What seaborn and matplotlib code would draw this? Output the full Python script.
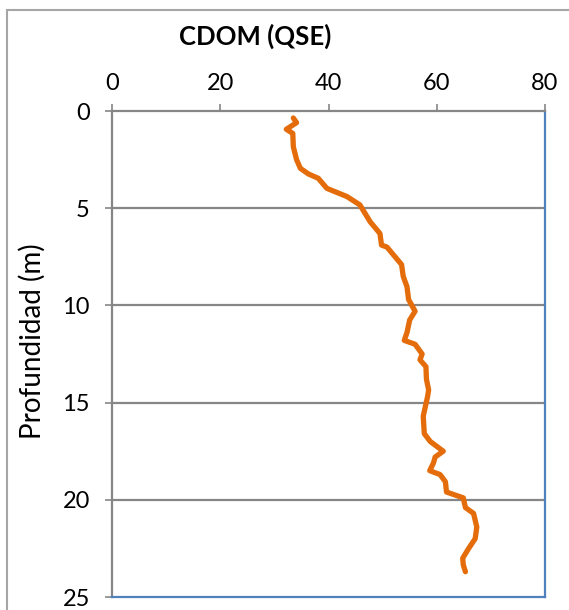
import matplotlib
matplotlib.use("Agg")
import matplotlib.pyplot as plt
import matplotlib.patches as mpatches
import seaborn as sns
import pandas as pd

# CDOM values (QSE) and depths (m)
cdom = [33.5, 34.1, 32.2, 33.4, 33.5, 34.1, 34.8, 36.3, 38.1, 39.7, 41.2, 43.4, 45.8,
        47.7, 49.5, 49.8, 50.8, 52.3, 53.5, 53.8, 54.5, 54.8, 56.0, 55.0, 54.5, 54.0,
        56.0, 57.3, 56.9, 58.0, 58.1, 58.5, 58.3, 57.5, 57.7, 58.8, 61.2, 59.7, 59.4,
        58.7, 60.6, 61.6, 61.8, 64.9, 65.3, 66.8, 67.4, 67.1, 65.9, 64.8, 64.9, 65.3]
depth = [0.36, 0.6, 0.94, 1.15, 1.84, 2.5, 2.95, 3.24, 3.46, 3.98, 4.15, 4.4, 4.83,
         5.7, 6.3, 6.9, 7.0, 7.5, 7.9, 8.5, 9.04, 9.7, 10.3, 10.75, 11.4, 11.8,
         12.0, 12.5, 12.8, 13.15, 13.8, 14.35, 14.7, 15.7, 16.6, 17.0, 17.5, 17.8, 18.1,
         18.5, 18.7, 19.07, 19.6, 19.9, 20.4, 20.7, 21.4, 22.0, 22.5, 23.0, 23.35, 23.7]
x_ticks = [0, 20, 40, 60, 80]
y_ticks = [0, 5, 10, 15, 20, 25]
title = "CDOM (QSE)"
ylabel = "Profundidad (m)"

df = pd.DataFrame({"cdom": cdom, "depth": depth})

sns.set_theme(style="white")
plt.rcParams["font.family"] = ["Lato", "DejaVu Sans"]

W, H = 569, 610
fig = plt.figure(figsize=(W / 100, H / 100), dpi=100)
ax = fig.add_axes([112 / W, 1 - 597 / H, (545 - 112) / W, (597 - 111) / H])

gray = "#868686"
blue = "#4F81BD"

for yv in y_ticks[1:-1]:
    ax.axhline(yv, color=gray, lw=1.6, zorder=1)

sns.lineplot(data=df, x="cdom", y="depth", sort=False, estimator=None,
             color="#E46C0A", lw=3.8, ax=ax, zorder=3)

ax.set_xlim(0, 80)
ax.set_ylim(25, 0)
ax.set_xticks(x_ticks)
ax.set_yticks(y_ticks)
ax.xaxis.tick_top()
ax.xaxis.set_label_position("top")
ax.set_xlabel("")
ax.set_ylabel(ylabel, fontsize=20, color="black")
ax.yaxis.label.set_va("center")
ax.yaxis.set_label_coords((32 - 112) / 433, (597 - 341) / 486)
ax.tick_params(axis="both", which="both", direction="out", length=5, width=1.2,
               color=gray, labelsize=17, labelcolor="black", pad=8)
ax.tick_params(axis="x", top=True, bottom=False, pad=7)
ax.tick_params(axis="y", left=True, right=False, pad=11)

ax.spines["left"].set_color(gray)
ax.spines["top"].set_color(gray)
ax.spines["right"].set_color(blue)
ax.spines["bottom"].set_color(blue)
for s in ax.spines.values():
    s.set_linewidth(1.6)
    s.set_visible(True)

fig.text(255 / W, 1 - 36 / H, title, ha="center", va="center",
         fontsize=18.5, fontweight="bold", color="black")

frame = mpatches.Rectangle((7 / W, -0.1), 1.2, 1.1 - 10 / H, transform=fig.transFigure,
                           fill=False, edgecolor="#A6A6A6", lw=1.5, zorder=0)
fig.patches.append(frame)

fig.savefig("out.png", dpi=100)
